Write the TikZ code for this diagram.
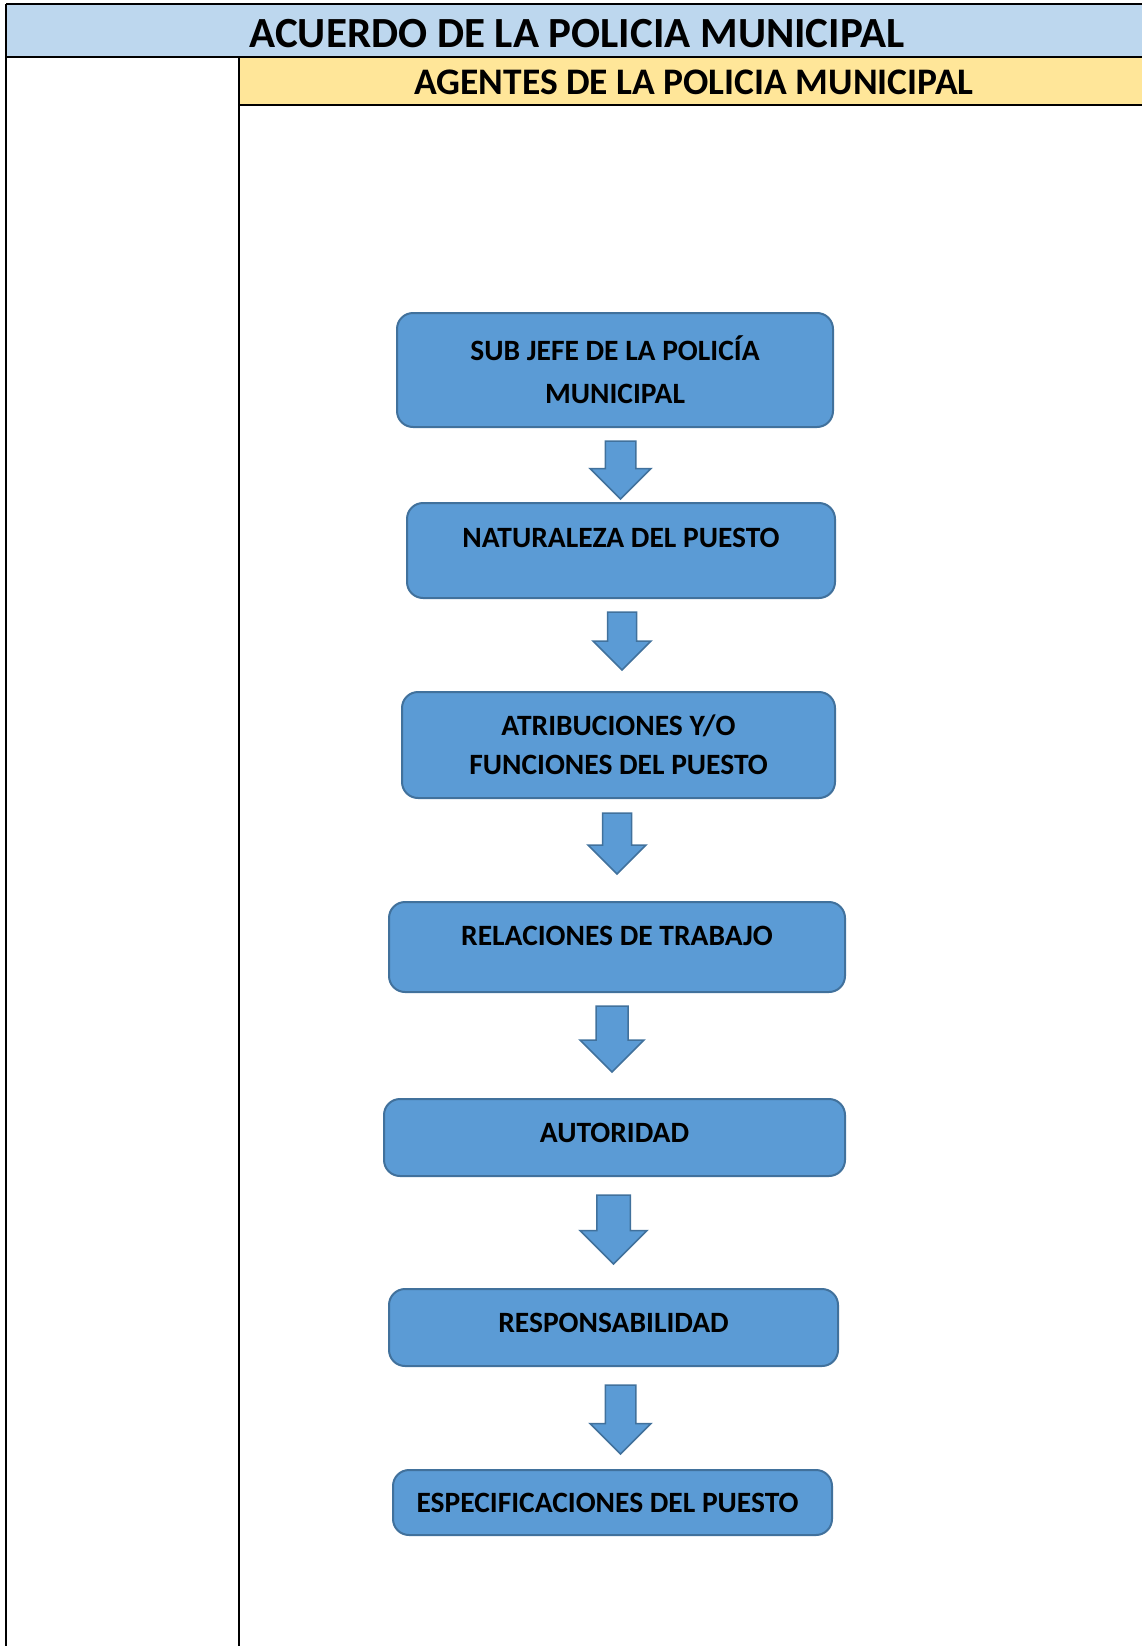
\documentclass[tikz,border=0pt]{standalone}
\usepackage{fontspec}
\setmainfont{Carlito}
\usetikzlibrary{positioning,calc}
\definecolor{HeadBlue}{RGB}{189,215,238}
\definecolor{HeadYellow}{RGB}{255,230,153}
\definecolor{BoxBlue}{RGB}{91,155,213}
\definecolor{BoxEdge}{RGB}{65,113,156}
\tikzset{
  stepbox/.style={draw=BoxEdge,line width=2pt,rounded corners=16pt,fill=BoxBlue,
    align=center,inner sep=0pt,font=\bfseries\fontsize{29.5}{40}\selectfont},
  blockarrow/.style={draw=BoxEdge,line width=1.5pt,fill=BoxBlue,line join=miter},
  rule/.style={line width=2.2pt,black},
  title/.style={font=\bfseries\fontsize{43}{50}\selectfont,inner sep=0pt},
  subtitle/.style={font=\bfseries\fontsize{37.5}{40}\selectfont,inner sep=0pt}
}
% down block arrow: centre x, top y, length, head width
\newcommand{\downblock}[4]{%
  \draw[blockarrow] ({#1-#4/4},#2) -- ({#1+#4/4},#2)
    -- ({#1+#4/4},{#2+#3-#4/2}) -- ({#1+#4/2},{#2+#3-#4/2})
    -- (#1,{#2+#3}) -- ({#1-#4/2},{#2+#3-#4/2})
    -- ({#1-#4/4},{#2+#3-#4/2}) -- cycle;}

\begin{document}
\begin{tikzpicture}[x=1pt,y=-1pt]
\useasboundingbox (0,0) rectangle (1142,1646);
% header bands
\fill[HeadBlue] (6,4) rectangle (1142,57);
\fill[HeadYellow] (239,57) rectangle (1142,105);
\draw[rule] (6,4) -- (1142,4);
\draw[rule] (6,57) -- (1142,57);
\draw[rule] (239,105) -- (1142,105);
\draw[rule] (6,4) -- (6,1646);
\draw[rule] (239,57) -- (239,1646);
\node[title] (acuerdo) at (577,34) {ACUERDO DE LA POLICIA MUNICIPAL};
\node[subtitle] (agentes) at (694,82) {AGENTES DE LA POLICIA MUNICIPAL};

% puesto boxes
\node[stepbox,minimum width=436,minimum height=114,
  font=\bfseries\fontsize{29.5}{43}\selectfont] (subjefe) at (615,370)
  {SUB JEFE DE LA POLICÍA\\MUNICIPAL};
\node[stepbox,minimum width=428,minimum height=95,text depth=26pt] (naturaleza) at (621,550.5)
  {NATURALEZA DEL PUESTO};
\node[stepbox,minimum width=433,minimum height=106,
  font=\bfseries\fontsize{29.5}{39}\selectfont] (atribuciones) at (618.5,745)
  {ATRIBUCIONES Y/O\\FUNCIONES DEL PUESTO};
\node[stepbox,minimum width=456,minimum height=90,text depth=22pt] (relaciones) at (617,947)
  {RELACIONES DE TRABAJO};
\node[stepbox,minimum width=461,minimum height=77,text depth=10pt] (autoridad) at (614.5,1137.5)
  {AUTORIDAD};
\node[stepbox,minimum width=449,minimum height=77,text depth=10pt] (responsabilidad) at (613.5,1327.5)
  {RESPONSABILIDAD};
\node[stepbox,minimum width=439,minimum height=65] (especificaciones) at (612.5,1502.5)
  {ESPECIFICACIONES DEL PUESTO\kern10pt};

% arrows between boxes
\downblock{620.5}{441}{58}{61}
\downblock{622}{612}{58}{58}
\downblock{617}{813}{61}{58}
\downblock{612}{1006}{66}{64}
\downblock{613.5}{1195}{69}{67}
\downblock{620.5}{1385}{69}{61}
\end{tikzpicture}
\end{document}
